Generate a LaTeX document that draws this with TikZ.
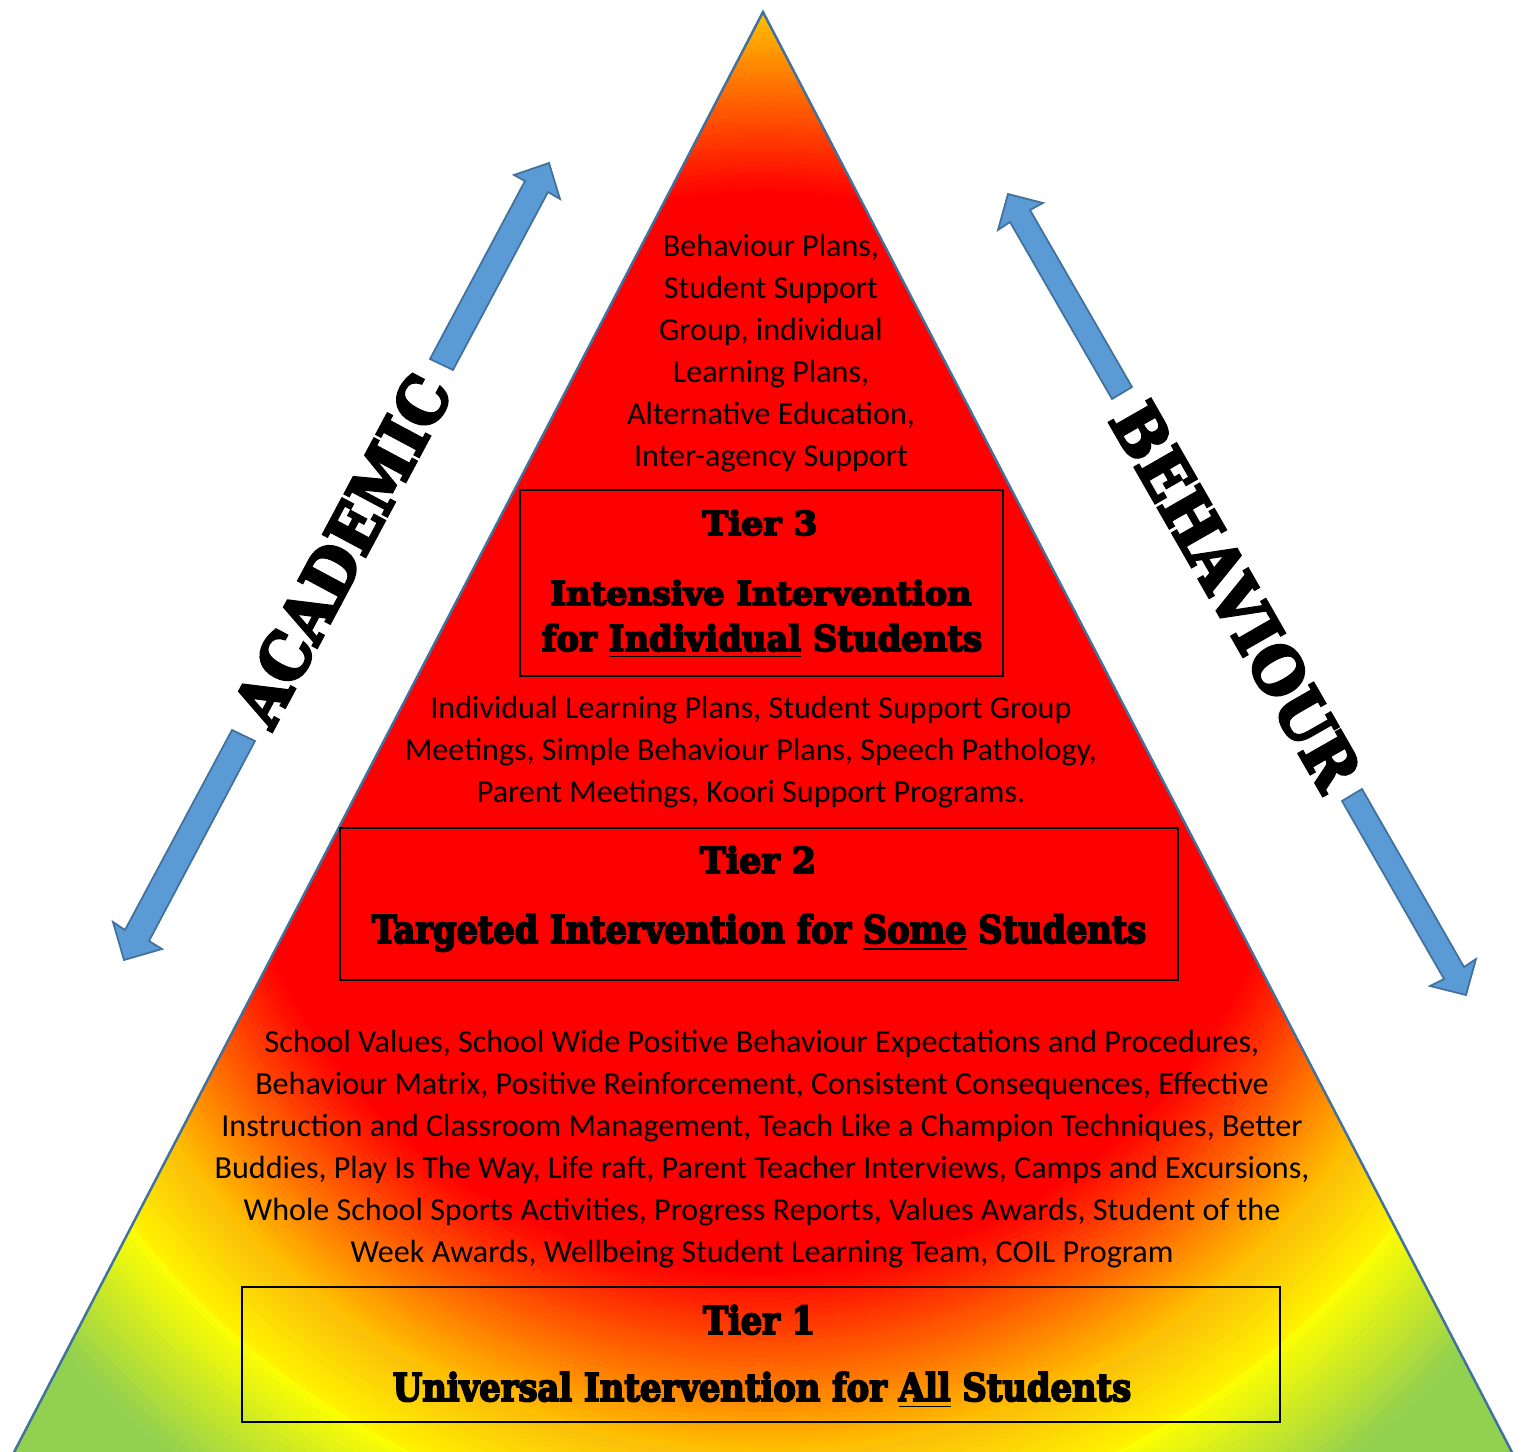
\documentclass[tikz,border=0pt]{standalone}
\usepackage{fontspec}
\setmainfont{Carlito}
\newfontfamily\titlefont{DejaVu Serif}[BoldFeatures={FakeBold=5}]
\definecolor{arrowblue}{HTML}{5B9BD5}
\definecolor{edgeblue}{HTML}{41719C}
\definecolor{tiergold}{HTML}{FFC000}
\definecolor{tiergreen}{HTML}{92D050}
\newcommand{\heavy}[3]{\resizebox{#1}{#2}{\titlefont\bfseries #3}}

\begin{document}
\begin{tikzpicture}[x=0.01cm, y=-0.01cm,
    tierbox/.style={draw=black, line width=0.4pt},
    tiertitle/.style={anchor=base, inner sep=0pt},
    itemtext/.style={align=center, inner sep=0pt, font=\fontsize{9.13}{11.95}\selectfont},
    arrowpiece/.style={fill=arrowblue, draw=edgeblue, line width=0.5pt, line join=miter},
    sidelabel/.style={inner sep=0pt}]
                \fill[white] (0,0) rectangle (1523,1452);
                \useasboundingbox (0,0) rectangle (1523,1452);

                \coordinate (apex) at (763,12);
                \coordinate (baseL) at (11,1458);
                \coordinate (baseR) at (1515,1458);
                \coordinate (glow) at (763,732);

                % pyramid with its glow, ring by ring
                \begin{scope}
                    \clip (apex) -- (baseL) -- (baseR) -- cycle;
                    \fill[tiergreen] (0,0) rectangle (1523,1460);
                    \foreach \r in {936,930,...,804} {
                        \pgfmathtruncatemacro\p{(\r-801)/1.35}
                        \fill[tiergreen!\p!yellow] (glow) circle (\r);
                    }
                    \foreach \r in {801,796,...,722} {
                        \pgfmathtruncatemacro\p{(\r-720)/0.81}
                        \fill[yellow!\p!tiergold] (glow) circle (\r);
                    }
                    \foreach \r in {720,715,...,545} {
                        \pgfmathtruncatemacro\p{(\r-541)/1.79}
                        \fill[tiergold!\p!red] (glow) circle (\r);
                    }
                    \fill[red] (glow) circle (541);
                \end{scope}
                \draw[edgeblue, line width=0.7pt, line join=miter] (apex) -- (baseL) -- (baseR) -- cycle;

                % tier boxes
                \draw[tierbox, fill=red] (520,490) rectangle (1003,676);
                \draw[tierbox, fill=red] (340,828) rectangle (1178,980);
                \draw[tierbox] (242,1287) rectangle (1280,1422);

                % arrows
                \filldraw[arrowpiece] (549,163) -- (514,175) -- (525,181) -- (430,359) -- (453,370) -- (548,192) -- (560,199) -- cycle;
                \filldraw[arrowpiece] (124,960) -- (113,922) -- (125,930) -- (232,730) -- (255,741) -- (149,941) -- (162,949) -- cycle;
                \filldraw[arrowpiece] (1008,194) -- (1043,203) -- (1030,210) -- (1132,387) -- (1112,399) -- (1010,222) -- (998,230) -- cycle;
                \filldraw[arrowpiece] (1466,995) -- (1430,986) -- (1444,979) -- (1342,801) -- (1362,789) -- (1464,967) -- (1476,959) -- cycle;

                \node[sidelabel, rotate=61.9] (academic) at (342,550) {\heavy{3.85cm}{0.48cm}{ACADEMIC}};
                \node[sidelabel, rotate=-60.2] (behaviour) at (1236,596) {\heavy{4.32cm}{0.48cm}{BEHAVIOUR}};

                % tier 3
                \node[itemtext] (t3items) at (771,353) {Behaviour Plans,\\Student Support\\Group, individual\\Learning Plans,\\Alternative Education,\\Inter-agency Support};
                \node[tiertitle] (t3head) at (760,535) {\heavy{1.15cm}{0.25cm}{Tier 3}};
                \node[tiertitle] (t3line) at (761,605) {\heavy{4.21cm}{0.25cm}{Intensive Intervention}};
                \node[tiertitle] (t3name) at (762,651) {\heavy{4.40cm}{0.27cm}{for \underline{Individual} Students}};

                % tier 2
                \node[itemtext] (t2items) at (751,752) {Individual Learning Plans, Student Support Group\\Meetings, Simple Behaviour Plans, Speech Pathology,\\Parent Meetings, Koori Support Programs.};
                \node[tiertitle] (t2head) at (758,873) {\heavy{1.16cm}{0.27cm}{Tier 2}};
                \node[tiertitle] (t2name) at (759,943) {\heavy{7.74cm}{0.29cm}{Targeted Intervention for \underline{Some} Students}};

                % tier 1
                \node[itemtext] (t1items) at (762,1149) {School Values, School Wide Positive Behaviour Expectations and Procedures,\\Behaviour Matrix, Positive Reinforcement, Consistent Consequences, Effective\\Instruction and Classroom Management, Teach Like a Champion Techniques, Better\\Buddies, Play Is The Way, Life raft, Parent Teacher Interviews, Camps and Excursions,\\Whole School Sports Activities, Progress Reports, Values Awards, Student of the\\Week Awards, Wellbeing Student Learning Team, COIL Program};
                \node[tiertitle] (t1head) at (759,1334) {\heavy{1.12cm}{0.29cm}{Tier 1}};
                \node[tiertitle] (t1name) at (762,1401) {\heavy{7.38cm}{0.29cm}{Universal Intervention for \underline{All} Students}};
\end{tikzpicture}
\end{document}
